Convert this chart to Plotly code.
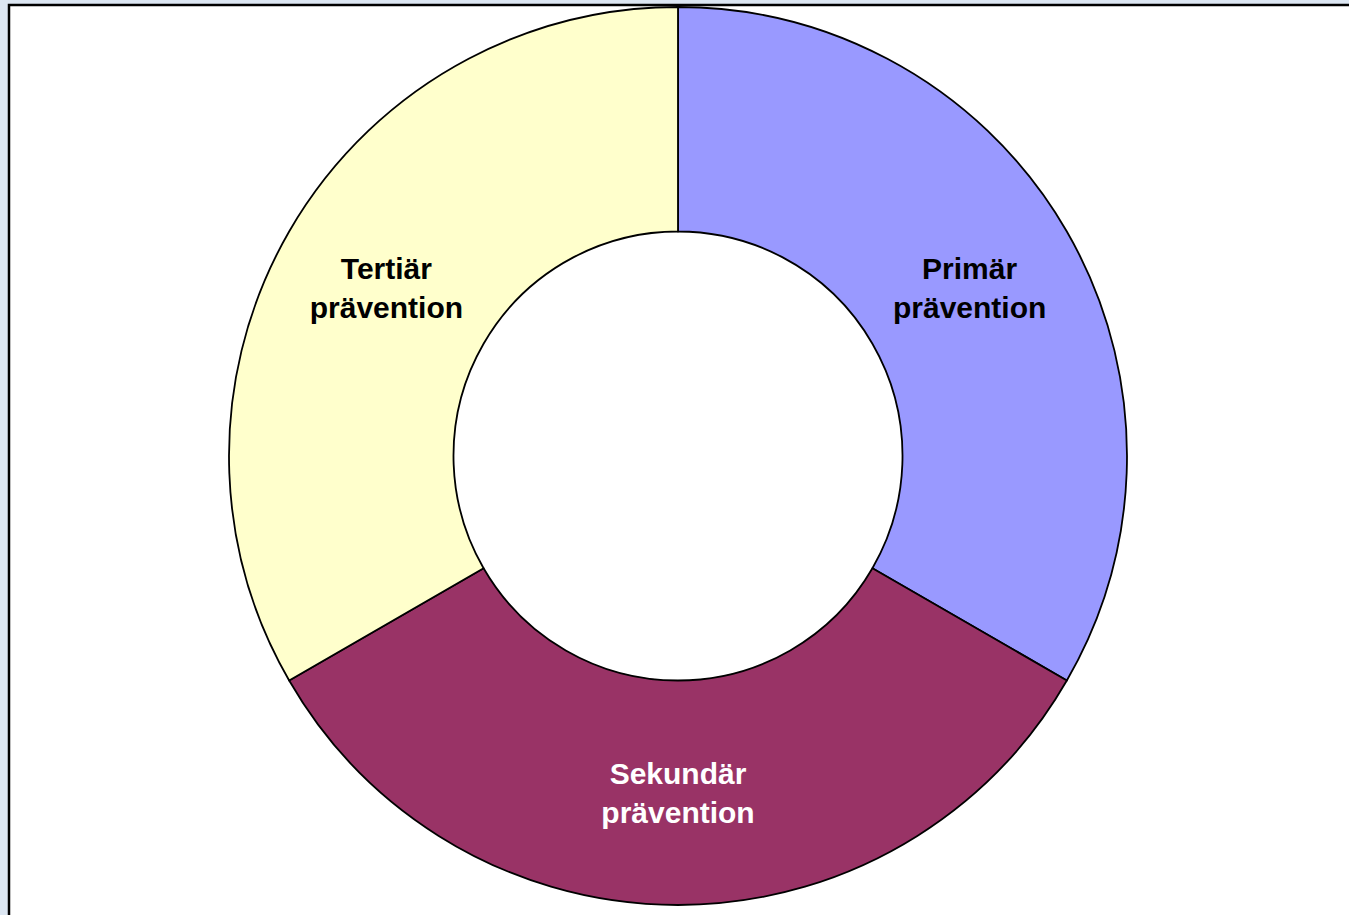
import plotly.graph_objects as go

labels = ["Primär prävention", "Sekundär prävention", "Tertiär prävention"]
text_labels = ["Primär<br>prävention", "Sekundär<br>prävention", "Tertiär<br>prävention"]
values = [1, 1, 1]
colors = ["#9999FF", "#993366", "#FFFFCC"]
text_colors = ["#000000", "#FFFFFF", "#000000"]

W, H = 1349, 915
cx, cy, r = 678, 456, 449

fig = go.Figure(go.Pie(
    labels=labels,
    values=values,
    text=text_labels,
    textinfo="text",
    textposition="inside",
    insidetextorientation="horizontal",
    hole=0.5,
    sort=False,
    direction="clockwise",
    rotation=0,
    marker=dict(colors=colors, line=dict(color="#000000", width=1.8)),
    textfont=dict(family="Liberation Sans, Arial, sans-serif", size=30,
                  color=text_colors, weight="bold"),
    domain=dict(x=[(cx - r) / W, (cx + r) / W], y=[1 - (cy + r) / H, 1 - (cy - r) / H]),
    showlegend=False,
))

fig.update_layout(
    width=W, height=H,
    margin=dict(l=0, r=0, t=0, b=0),
    paper_bgcolor="#DCE6F2",
    shapes=[dict(type="rect", xref="paper", yref="paper",
                 x0=9 / W, x1=1.02, y0=-0.02, y1=1 - 5 / H,
                 fillcolor="#FFFFFF", line=dict(color="#000000", width=2.5),
                 layer="below")],
)

fig.write_html("out.html")
